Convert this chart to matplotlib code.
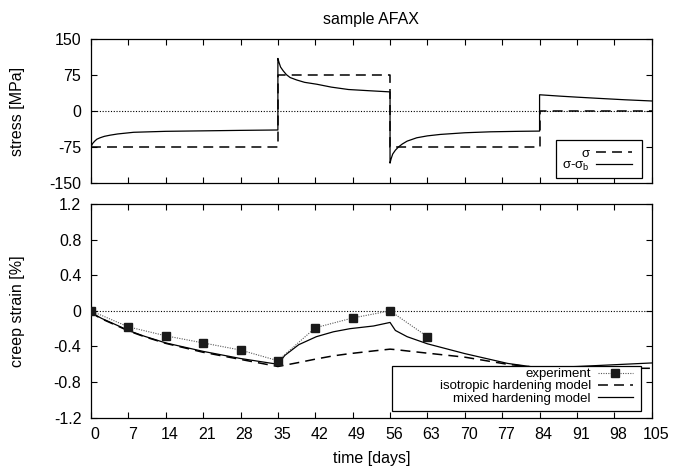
import matplotlib
matplotlib.use("Agg")
import matplotlib.pyplot as plt
from matplotlib.patches import Rectangle
from matplotlib.transforms import ScaledTranslation
import numpy as np

plt.rcParams['font.family'] = ['Liberation Sans', 'DejaVu Sans']
plt.rcParams['mathtext.default'] = 'regular'
plt.rcParams['axes.unicode_minus'] = False

# ---- stress history ----
t_load = [0, 35, 35, 56, 56, 84, 84, 105]
sigma = [-75, -75, 75, 75, -75, -75, 0, 0]

# effective stress sigma - sigma_b, one list per load step
t_eff_1 = [0, 0.3, 0.7, 1.1, 1.7, 2.5, 3.6, 5, 8, 14, 21, 28, 35]
eff_1 = [-75, -68, -63, -59, -56, -53, -50.5, -48, -44.5, -42.5, -41.5, -40.5, -39.7]
t_eff_2 = [35, 35.2, 35.5, 36, 36.6, 37.3, 38.5, 40, 42.3, 45, 48.2, 52, 56]
eff_2 = [110, 102, 92, 84, 76, 70, 65, 60, 56, 50, 45, 42.5, 40]
t_eff_3 = [56, 56.2, 56.5, 57, 57.6, 58.3, 59.2, 61, 63, 65.4, 70, 74.8, 80, 84]
eff_3 = [-109, -100, -90, -82, -75, -69, -63, -56, -52, -49, -45.5, -43.5, -42.5, -42]
t_eff_4 = [84, 86, 88, 91, 95, 100, 105]
eff_4 = [34, 32.5, 31, 29, 26.5, 23.5, 21]

# ---- creep strain ----
t_exp = [0, 7, 14, 21, 28, 35, 42, 49, 56, 63]
strain_exp = [0, -0.18, -0.28, -0.36, -0.44, -0.56, -0.19, -0.08, 0.0, -0.29]

t_model = [0, 0.5, 1.1, 2, 3.5, 5, 7, 10, 14, 21, 28, 35, 36.3, 38.9, 42.2,
           45.4, 48.5, 52.9, 56, 57, 59.2, 63, 70, 78, 84, 91, 98, 105]
strain_iso = [0, -0.035, -0.06, -0.09, -0.13, -0.17, -0.225, -0.29, -0.365, -0.465,
              -0.545, -0.625, -0.61, -0.58, -0.54, -0.505, -0.48, -0.45, -0.43,
              -0.435, -0.45, -0.475, -0.52, -0.6, -0.64, -0.645, -0.645, -0.645]
strain_mixed = [0, -0.03, -0.055, -0.085, -0.125, -0.165, -0.22, -0.285, -0.36, -0.455,
                -0.535, -0.6, -0.5, -0.38, -0.29, -0.235, -0.2, -0.17, -0.13,
                -0.22, -0.29, -0.37, -0.48, -0.59, -0.64, -0.625, -0.605, -0.585]

x_ticks = list(range(0, 106, 7))
stress_ticks = [-150, -75, 0, 75, 150]
strain_ticks = [-1.2, -0.8, -0.4, 0, 0.4, 0.8, 1.2]
strain_labels = ["-1.2", "-0.8", "-0.4", "0", "0.4", "0.8", "1.2"]

DASH = (0, (6.5, 4))
LW = 0.9

fig = plt.figure(figsize=(6.82, 4.72), dpi=100)
ax1 = fig.add_axes([0.1334, 0.6129, 0.8222, 0.3038])
ax2 = fig.add_axes([0.1334, 0.1150, 0.8222, 0.4528])

for ax in (ax1, ax2):
    ax.set_xlim(0, 105)
    ax.set_xticks(x_ticks)
    ax.tick_params(direction="in", top=True, right=True, length=4, width=0.8,
                   labelsize=11.5, pad=7)
    for sp in ax.spines.values():
        sp.set_linewidth(0.9)
    ax.axhline(0, color="black", lw=0.8, ls=(0, (1, 1.5)), zorder=1)


def key_box(ax, x0, y0, x1, y1):
    """White key background with a plain black border (axes coords)."""
    ax.add_patch(Rectangle((x0, y0), x1 - x0, y1 - y0, transform=ax.transAxes,
                           facecolor="white", edgecolor="black", lw=0.9, zorder=5))


def key(ax, anchor):
    leg = ax.legend(loc="center right", bbox_to_anchor=anchor, markerfirst=False,
                    fontsize=9.5, frameon=False, handlelength=2.7, labelspacing=0.0,
                    borderpad=0, handletextpad=0.5, borderaxespad=0)
    leg.set_zorder(6)
    for txt in leg.get_texts():
        txt.set_ha("right")
    return leg


# stress panel
ax1.plot(t_load, sigma, color="black", lw=1.1, ls=DASH, label="σ")
t_eff = np.concatenate([t_eff_1, t_eff_2, t_eff_3, t_eff_4])
eff = np.concatenate([eff_1, eff_2, eff_3, eff_4])
ax1.plot(t_eff, eff, color="black", lw=LW, label="σ-σ$_b$")
ax1.set_ylim(-150, 150)
ax1.set_yticks(stress_ticks)
ax1.set_xticklabels([])
ax1.set_ylabel("stress [MPa]", fontsize=11.5)
ax1.yaxis.set_label_coords(-0.118, 0.5)
ax1.set_title("sample AFAX", fontsize=11.5, pad=11)
key_box(ax1, 0.829, 0.031, 0.982, 0.298)
key(ax1, (0.964, 0.156))

# strain panel
ax2.plot(t_exp, strain_exp, color="0.35", lw=0.8, ls=(0, (1, 1.2)),
         marker="s", ms=5.8, mfc="#1a1a1a", mec="#1a1a1a", label="experiment", zorder=4)
ax2.plot(t_model, strain_iso, color="black", lw=1.1, ls=DASH,
         label="isotropic hardening model")
ax2.plot(t_model, strain_mixed, color="black", lw=LW, label="mixed hardening model")
ax2.set_ylim(-1.2, 1.2)
ax2.set_yticks(strain_ticks)
ax2.set_yticklabels(strain_labels)
ax2.set_ylabel("creep strain [%]", fontsize=11.5)
ax2.yaxis.set_label_coords(-0.118, 0.5)
ax2.set_xlabel("time [days]", fontsize=11.5, labelpad=6)
key_box(ax2, 0.536, 0.031, 0.981, 0.244)
key(ax2, (0.967, 0.147))

# day labels sit a few pixels right of their ticks
shift = ScaledTranslation(4 / 100, 0, fig.dpi_scale_trans)
for lbl in ax2.get_xticklabels():
    lbl.set_transform(lbl.get_transform() + shift)

fig.savefig("out.png", dpi=100)
plt.close(fig)
